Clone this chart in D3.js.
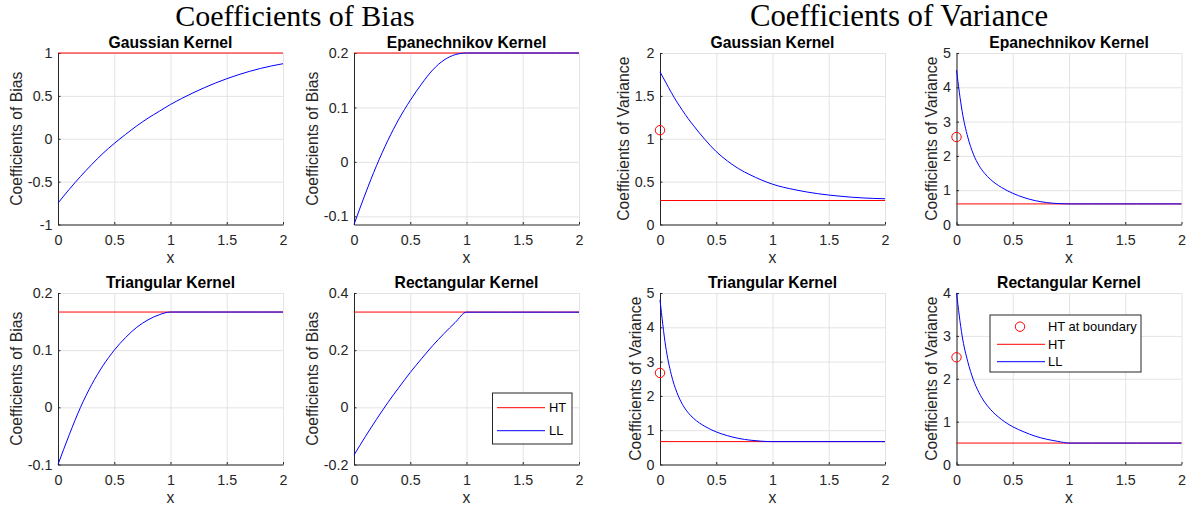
<!DOCTYPE html>
<html>
<head>
<meta charset="utf-8">
<script src="https://cdn.jsdelivr.net/npm/d3@7"></script>
<style>
    body { margin: 0; background: #fff; }
    svg { display: block; font-family: "Liberation Sans", Arial, sans-serif; }
</style>
</head>
<body>
<svg id="chart" width="1188" height="512"></svg>
<script>
// データ
const kernelNames = ['Gaussian Kernel', 'Epanechnikov Kernel', 'Triangular Kernel', 'Rectangular Kernel'];

const biasX = [0, 0.1, 0.2, 0.3, 0.4, 0.5, 0.6, 0.7, 0.8, 0.9, 1, 1.1, 1.2, 1.3, 1.4, 1.5, 1.6, 1.7, 1.8, 1.9, 2];
const biasGaussLL = [-0.75, -0.59, -0.44, -0.30, -0.17, -0.055, 0.05, 0.15, 0.24, 0.32, 0.40, 0.47, 0.535, 0.595, 0.65, 0.70, 0.745, 0.785, 0.82, 0.85, 0.875];
const biasEpanLL = [-0.115, -0.059, -0.007, 0.039, 0.079, 0.113, 0.143, 0.169, 0.187, 0.197, 0.2, 0.2, 0.2, 0.2, 0.2, 0.2, 0.2, 0.2, 0.2, 0.2, 0.2];
const biasTriLL = [-0.1, -0.048, 0.0, 0.04, 0.073, 0.1, 0.122, 0.14, 0.153, 0.162, 0.1667, 0.1667, 0.1667, 0.1667, 0.1667, 0.1667, 0.1667, 0.1667, 0.1667, 0.1667, 0.1667];
const biasRectLL = [-0.167, -0.103, -0.042, 0.016, 0.070, 0.122, 0.170, 0.216, 0.258, 0.297, 0.333, 0.333, 0.333, 0.333, 0.333, 0.333, 0.333, 0.333, 0.333, 0.333, 0.333];
const biasHT = [1, 0.2, 0.1667, 0.3333];

const varX = [0, 0.05, 0.1, 0.15, 0.2, 0.25, 0.3, 0.4, 0.5, 0.6, 0.7, 0.8, 0.9, 1, 1.2, 1.4, 1.6, 1.8, 2];
const varGaussLL = [1.78, 1.66, 1.54, 1.43, 1.33, 1.235, 1.15, 0.99, 0.85, 0.74, 0.65, 0.58, 0.52, 0.47, 0.405, 0.36, 0.33, 0.31, 0.30];
const varEpanLL = [4.5, 3.3, 2.55, 2.05, 1.72, 1.49, 1.32, 1.08, 0.91, 0.785, 0.695, 0.64, 0.61, 0.6, 0.6, 0.6, 0.6, 0.6, 0.6];
const varTriLL = [4.8, 3.45, 2.625, 2.1, 1.75, 1.51, 1.34, 1.11, 0.95, 0.84, 0.76, 0.71, 0.68, 0.667, 0.667, 0.667, 0.667, 0.667, 0.667];
const varRectLL = [4.0, 3.0, 2.4, 1.975, 1.675, 1.455, 1.29, 1.05, 0.88, 0.76, 0.66, 0.59, 0.54, 0.5, 0.5, 0.5, 0.5, 0.5, 0.5];
const varHT = [0.28, 0.6, 0.667, 0.5];
const varHTBoundary = [1.1, 2.55, 2.67, 2.5];

const xTicks = [0, 0.5, 1, 1.5, 2];
const biasYDomains = [[-1, 1], [-0.115, 0.2], [-0.1, 0.2], [-0.2, 0.4]];
const biasYTicks = [[-1, -0.5, 0, 0.5, 1], [-0.1, 0, 0.1, 0.2], [-0.1, 0, 0.1, 0.2], [-0.2, 0, 0.2, 0.4]];
const varYDomains = [[0, 2], [0, 5], [0, 5], [0, 4]];
const varYTicks = [[0, 0.5, 1, 1.5, 2], [0, 1, 2, 3, 4, 5], [0, 1, 2, 3, 4, 5], [0, 1, 2, 3, 4]];

class KernelCoefficientChart {
    constructor() {
        this.svg = d3.select('#chart');
        this.colLeft = [58, 354, 660, 956.5];
        this.rowTop = [53, 293];
        this.plotW = 225;
        this.plotH = 171.5;
        this.axisColor = '#262626';

        this.drawSuperTitles();
        this.drawAll();
    }

    drawSuperTitles() {
        const titles = [['Coefficients of Bias', 295, 30], ['Coefficients of Variance', 899, 30.8]];
        titles.forEach(([t, cx, size]) => {
            this.svg.append('text')
                .attr('x', cx).attr('y', 25.5)
                .attr('text-anchor', 'middle')
                .style('font-family', '"Liberation Serif", "Times New Roman", serif')
                .style('font-size', `${size}px`)
                .attr('fill', '#000')
                .text(t);
        });
    }

    drawAll() {
        const biasLL = [biasGaussLL, biasEpanLL, biasTriLL, biasRectLL];
        const varLL = [varGaussLL, varEpanLL, varTriLL, varRectLL];

        // バイアス（左2列）
        kernelNames.forEach((name, i) => {
            const g = this.drawPanel({
                col: i % 2, row: Math.floor(i / 2),
                title: name, ylabel: 'Coefficients of Bias',
                yDomain: biasYDomains[i], yTicks: biasYTicks[i],
                xs: biasX, ll: biasLL[i], ht: biasHT[i], boundary: null
            });
            if (i === 3) this.drawBiasLegend(g);
        });

        // 分散（右2列）
        kernelNames.forEach((name, i) => {
            const g = this.drawPanel({
                col: 2 + i % 2, row: Math.floor(i / 2),
                title: name, ylabel: 'Coefficients of Variance',
                yDomain: varYDomains[i], yTicks: varYTicks[i],
                xs: varX, ll: varLL[i], ht: varHT[i], boundary: varHTBoundary[i]
            });
            if (i === 3) this.drawVarLegend(g);
        });
    }

    drawPanel(p) {
        const W = this.plotW, H = this.plotH;
        const g = this.svg.append('g')
            .attr('transform', `translate(${this.colLeft[p.col]},${this.rowTop[p.row]})`);

        const x = d3.scaleLinear().domain([0, 2]).range([0, W]);
        const y = d3.scaleLinear().domain(p.yDomain).range([H, 0]);

        // グリッド
        g.append('g').attr('transform', `translate(0,${H})`)
            .call(d3.axisBottom(x).tickValues(xTicks).tickSize(-H).tickFormat(''))
            .call(s => s.select('.domain').remove())
            .selectAll('line').attr('stroke', '#e3e3e3');
        g.append('g')
            .call(d3.axisLeft(y).tickValues(p.yTicks).tickSize(-W).tickFormat(''))
            .call(s => s.select('.domain').remove())
            .selectAll('line').attr('stroke', '#e3e3e3');

        // 軸
        const xAxis = g.append('g').attr('transform', `translate(0,${H})`)
            .call(d3.axisBottom(x).tickValues(xTicks).tickSizeInner(-2.5).tickSizeOuter(0).tickPadding(6).tickFormat(d => String(d)));
        const yAxis = g.append('g')
            .call(d3.axisLeft(y).tickValues(p.yTicks).tickSizeInner(-2.5).tickSizeOuter(0).tickPadding(5.5).tickFormat(d => String(d)));
        [xAxis, yAxis].forEach(a => {
            a.select('.domain').attr('stroke', this.axisColor);
            a.selectAll('line').attr('stroke', this.axisColor);
            a.selectAll('text').attr('fill', this.axisColor)
                .style('font-size', '14.3px')
                .style('font-family', '"Liberation Sans", Arial, sans-serif');
        });
        xAxis.selectAll('text').attr('dy', null).attr('y', 20);

        // 系列
        if (p.boundary !== null) {
            g.append('circle')
                .attr('cx', x(0)).attr('cy', y(p.boundary)).attr('r', 4.7)
                .attr('fill', 'none').attr('stroke', '#ff0000').attr('stroke-width', 1);
        }
        g.append('line')
            .attr('x1', x(0)).attr('x2', x(2))
            .attr('y1', y(p.ht)).attr('y2', y(p.ht))
            .attr('stroke', '#ff0000').attr('stroke-width', 1);

        const line = d3.line()
            .x((d, i) => x(p.xs[i]))
            .y(d => y(d))
            .curve(d3.curveMonotoneX);
        g.append('path')
            .datum(p.ll)
            .attr('d', line)
            .attr('fill', 'none')
            .attr('stroke', '#0000ff')
            .attr('stroke-width', 1);

        // タイトル・ラベル
        g.append('text')
            .attr('x', W / 2).attr('y', -5.5)
            .attr('text-anchor', 'middle')
            .style('font-size', '15.7px').style('font-weight', 'bold')
            .attr('fill', '#000')
            .text(p.title);

        g.append('text')
            .attr('x', W / 2).attr('y', H + 38)
            .attr('text-anchor', 'middle')
            .style('font-size', '15.7px')
            .attr('fill', this.axisColor)
            .text('x');

        let maxW = 0;
        yAxis.selectAll('text').each(function () {
            maxW = Math.max(maxW, this.getComputedTextLength());
        });
        const lx = -(5.5 + maxW + 6);
        g.append('text')
            .attr('transform', `translate(${lx},${H / 2}) rotate(-90)`)
            .attr('text-anchor', 'middle')
            .style('font-size', '15.7px')
            .attr('fill', this.axisColor)
            .text(p.ylabel);

        return g;
    }

    legendBox(g, x0, y0, w, h) {
        g.append('rect')
            .attr('x', x0).attr('y', y0).attr('width', w).attr('height', h)
            .attr('fill', '#fff').attr('stroke', this.axisColor).attr('stroke-width', 1);
    }

    legendText(g, tx, ty, label) {
        g.append('text')
            .attr('x', tx).attr('y', ty + 4.6)
            .style('font-size', '12.9px')
            .attr('fill', '#000')
            .text(label);
    }

    drawBiasLegend(g) {
        this.legendBox(g, 138.5, 100, 79.5, 51);
        const rows = [['HT', '#ff0000', 114.7], ['LL', '#0000ff', 137.7]];
        rows.forEach(([label, color, ry]) => {
            g.append('line').attr('x1', 143).attr('x2', 191).attr('y1', ry).attr('y2', ry)
                .attr('stroke', color).attr('stroke-width', 1);
            this.legendText(g, 195, ry, label);
        });
    }

    drawVarLegend(g) {
        this.legendBox(g, 33.5, 22, 151, 57);
        g.append('circle').attr('cx', 63.5).attr('cy', 33.7).attr('r', 4.7)
            .attr('fill', 'none').attr('stroke', '#ff0000');
        this.legendText(g, 91.5, 33.7, 'HT at boundary');
        const rows = [['HT', '#ff0000', 51.3], ['LL', '#0000ff', 68.7]];
        rows.forEach(([label, color, ry]) => {
            g.append('line').attr('x1', 40.5).attr('x2', 88.5).attr('y1', ry).attr('y2', ry)
                .attr('stroke', color).attr('stroke-width', 1);
            this.legendText(g, 91.5, ry, label);
        });
    }
}

const chart = new KernelCoefficientChart();
</script>
</body>
</html>
